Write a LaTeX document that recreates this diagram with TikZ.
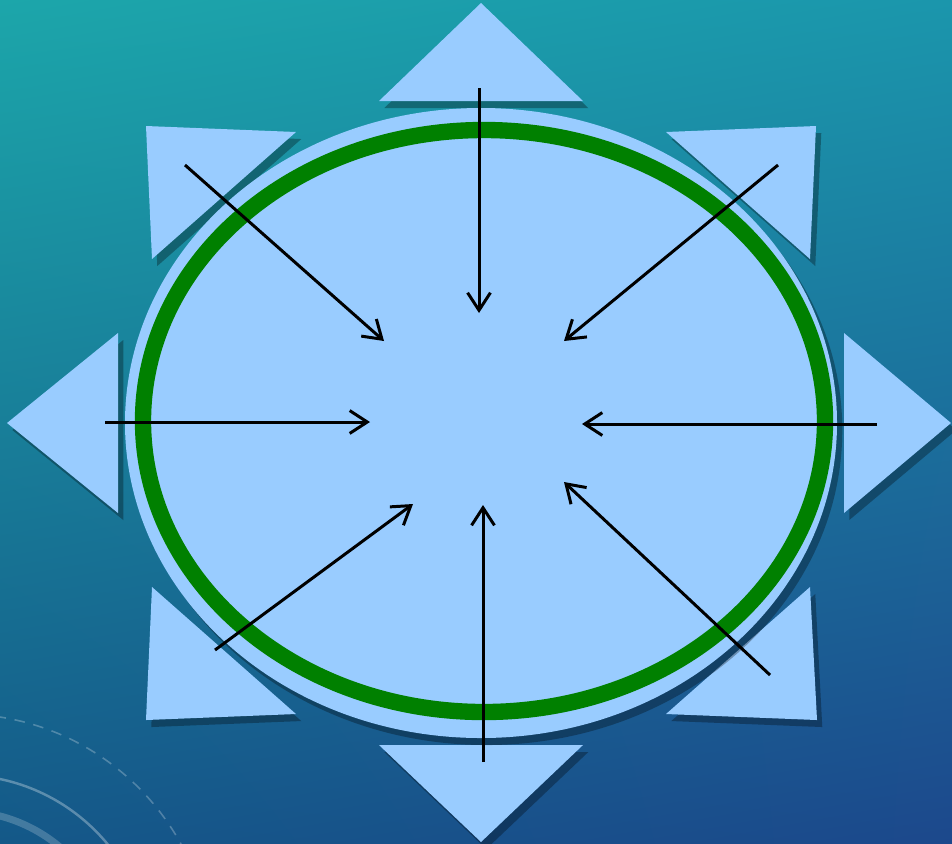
\documentclass[tikz,border=0pt]{standalone}
\usetikzlibrary{arrows.meta,shadows,shadings}
\definecolor{bgTL}{RGB}{28,166,170}
\definecolor{bgTR}{RGB}{27,150,172}
\definecolor{bgBL}{RGB}{20,88,136}
\definecolor{bgBR}{RGB}{28,72,140}
\definecolor{paddleblue}{RGB}{153,204,255}
\definecolor{ringgreen}{RGB}{0,128,0}
\begin{document}
\begin{tikzpicture}[x=0.02cm, y=-0.02cm,
    paddle/.style={fill=paddleblue, drop shadow={shadow xshift=3pt, shadow yshift=-4pt, opacity=0.3, fill=black}},
    push/.style={line width=1.7pt, -{Straight Barb[length=10pt, width=13pt]}}]
    \useasboundingbox (0,0) rectangle (952,843);
    \shade[upper left=bgTL, upper right=bgTR, lower left=bgBL, lower right=bgBR] (0,0) rectangle (952,843);

    % faint rings in the corner
    \draw[white, opacity=0.25, line width=0.9pt, dash pattern=on 6pt off 5pt] (-39,965) circle (251);
    \draw[white, opacity=0.3, line width=1.4pt] (-39,965) circle (190);
    \draw[white, opacity=0.2, line width=4pt] (-39,965) circle (154);

    % eight triangles round the ring
    \fill[paddle] (481,3) -- (583,101) -- (379,101) -- cycle;
    \fill[paddle] (481,842) -- (583,745) -- (379,745) -- cycle;
    \fill[paddle] (7,423) -- (118,333) -- (118,513) -- cycle;
    \fill[paddle] (951,423) -- (844,333) -- (844,513) -- cycle;
    \fill[paddle] (146,126) -- (296,132) -- (152,259) -- cycle;
    \fill[paddle] (816,126) -- (666,132) -- (810,259) -- cycle;
    \fill[paddle] (146,720) -- (296,714) -- (152,587) -- cycle;
    \fill[paddle] (817,720) -- (666,714) -- (810,587) -- cycle;

    \fill[paddle] (481,423) ellipse [x radius=356, y radius=315];
    \draw[ringgreen, line width=9.3pt] (484,421) ellipse [x radius=341, y radius=291];

    % arrow ends, outer (O) and inner (I)
    \coordinate (nO) at (479,88);   \coordinate (nI) at (479,313);
    \coordinate (neO) at (778,165); \coordinate (neI) at (564,341);
    \coordinate (eO) at (877,424);  \coordinate (eI) at (582,424);
    \coordinate (seO) at (770,675); \coordinate (seI) at (564,482);
    \coordinate (sO) at (483,762);  \coordinate (sI) at (483,505);
    \coordinate (swO) at (215,650); \coordinate (swI) at (413,504);
    \coordinate (wO) at (105,422);  \coordinate (wI) at (370,422);
    \coordinate (nwO) at (185,165); \coordinate (nwI) at (384,341);
    \foreach \d in {n,ne,e,se,s,sw,w,nw}
        \draw[push] (\d O) -- (\d I);
\end{tikzpicture}
\end{document}
